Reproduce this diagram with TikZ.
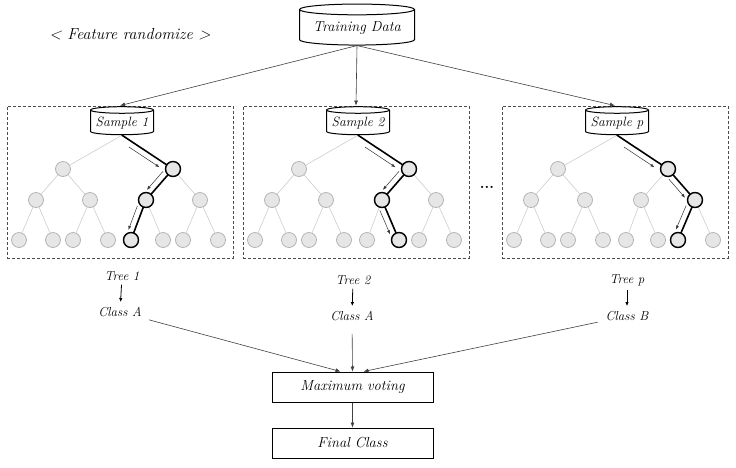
\documentclass[tikz,border=0pt]{standalone}
\usepackage{tikz}
\usetikzlibrary{positioning}
\usetikzlibrary{calc}
\usetikzlibrary{arrows.meta}
\usetikzlibrary{shapes.geometric}

\definecolor{leafgray}{HTML}{E6E6E6}
\definecolor{rimgray}{HTML}{B4B4B4}
\definecolor{twiggray}{HTML}{CCCCCC}

\begin{document}
\begin{tikzpicture}[x=1pt, y=-1pt,
        leaf/.style={circle, draw=rimgray, fill=leafgray, minimum size=15pt, inner sep=0pt, line width=0.8pt},
        db/.style={cylinder, shape border rotate=90, aspect=0.12, draw, fill=white, line width=1pt, inner sep=1pt},
        panel/.style={draw=black!70, densely dashed, line width=0.8pt, minimum width=226pt, minimum height=152pt},
        vbox/.style={draw, line width=1pt, minimum width=161pt, minimum height=30pt, font=\fontsize{14.5}{17}\selectfont\itshape},
        lbl/.style={font=\fontsize{13}{15}\selectfont\itshape, inner sep=1pt},
        link/.style={draw=black!75, line width=0.6pt, -{Latex[length=5pt,width=4pt]}},
        twig/.style={draw=twiggray, line width=0.6pt},
        route/.style={line width=1.6pt, line cap=round},
        hint/.style={draw=black!80, line width=0.5pt, -{Latex[length=4pt,width=3pt]}}]

    \useasboundingbox (0,0) rectangle (736,467);

    \node[font=\fontsize{16}{19}\selectfont\itshape] (feat) at (130,34) {< Feature randomize >};
    \node[db, minimum width=115pt, minimum height=41pt, font=\fontsize{14.5}{17}\selectfont\itshape] (data) at (357,28) {Training Data};
    \node[font=\fontsize{15}{18}\selectfont\bfseries] (dots) at (487,187) {...};

    \foreach \k/\cx/\lab/\b/\c in {1/120/1/rl/rll, 2/356/2/rl/rlr, 3/615/p/rr/rrl} {
        \node[panel] (panel\k) at (\cx,182) {};
        \node[db, minimum width=63pt, minimum height=28pt, font=\fontsize{13.5}{15}\selectfont\itshape] (s\k) at (\cx+2,123) {Sample \lab};
        \draw[link] (data.south) -- (panel\k.north);
        \foreach \n/\dx/\y in {l/-57/169, r/53/169, ll/-84/200, lr/-30/200, rl/26/200, rr/80/200,
                lll/-101/240, llr/-67/240, lrl/-47/240, lrr/-12/240, rll/11/240, rlr/43/240, rrl/63/240, rrr/98/240}
            \node[leaf] (p\k-\n) at (\cx+\dx,\y) {};
        \draw[twig] (s\k.south) -- (p\k-l);
        \foreach \q/\m in {l/ll, l/lr, r/rl, r/rr, ll/lll, ll/llr, lr/lrl, lr/lrr, rl/rll, rl/rlr, rr/rrl, rr/rrr}
            \draw[twig] (p\k-\q) -- (p\k-\m);
        % chosen path
        \draw[route] (s\k.south) -- (p\k-r) -- (p\k-\b) -- (p\k-\c);
        \foreach \n in {r,\b,\c}
            \draw[line width=1.4pt] (p\k-\n) circle[radius=7.5pt];
        \foreach \a/\z in {s\k.south/p\k-r, p\k-r/p\k-\b, p\k-\b/p\k-\c}
            \draw[hint] ($(\a)!0.2!(\z)!6pt!-90:(\z)$) -- ($(\a)!0.8!(\z)!6pt!-90:(\z)$);
    }

    \node[lbl] (tree1) at (122,276) {Tree 1};
    \node[lbl] (class1) at (120,312) {Class A};
    \node[lbl] (tree2) at (353,280) {Tree 2};
    \node[lbl] (class2) at (352,316) {Class A};
    \node[lbl] (tree3) at (627,280) {Tree p};
    \node[lbl] (class3) at (627,316) {Class B};
    \foreach \k in {1,2,3}
        \draw[link, draw=black, line width=0.8pt, shorten <=3pt, shorten >=4pt, -{Latex[length=4pt,width=3.5pt]}] (tree\k) -- (class\k);

    \node[vbox] (vote) at (352.5,387) {Maximum voting};
    \node[vbox, below=25pt of vote] (final) {Final Class};
    \draw[link, shorten <=7pt] (class1) -- ([xshift=-12pt]vote.north);
    \draw[link, shorten <=12pt] (class2) -- (vote.north);
    \draw[link, shorten <=7pt] (class3) -- ([xshift=11pt]vote.north);
    \draw[link] (vote) -- (final);
\end{tikzpicture}
\end{document}
